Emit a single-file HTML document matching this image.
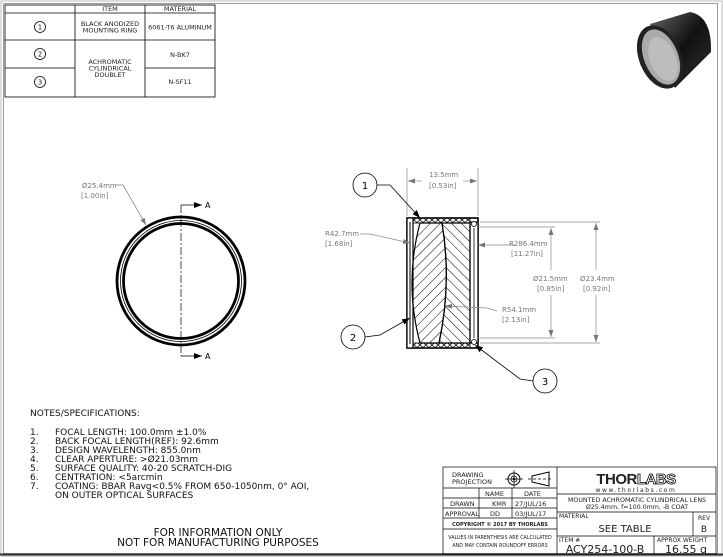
<!DOCTYPE html>
<html><head><meta charset="utf-8"><style>
html,body{margin:0;padding:0;background:#fff;}
svg{display:block;font-family:"DejaVu Sans","Liberation Sans",sans-serif;}
</style></head><body>
<svg width="723" height="557" viewBox="0 0 723 557" xmlns="http://www.w3.org/2000/svg">
<defs>
<pattern id="hb" width="7" height="7" patternUnits="userSpaceOnUse" patternTransform="rotate(45)"><line x1="0" y1="0" x2="0" y2="7" stroke="#000" stroke-width="1"/></pattern>
<pattern id="hf" width="7" height="7" patternUnits="userSpaceOnUse" patternTransform="rotate(-45)"><line x1="0" y1="0" x2="0" y2="7" stroke="#000" stroke-width="1"/></pattern>
<pattern id="hx" width="6" height="5" patternUnits="userSpaceOnUse"><path d="M0 0L6 5M6 0L0 5" stroke="#000" stroke-width="0.7"/></pattern>
<marker id="ar" markerWidth="8" markerHeight="6" refX="8" refY="3" orient="auto" markerUnits="userSpaceOnUse"><path d="M0 0L8 3L0 6z" fill="#000"/></marker>
<marker id="ag" markerWidth="7" markerHeight="5" refX="7" refY="2.5" orient="auto" markerUnits="userSpaceOnUse"><path d="M0 0L7 2.5L0 5z" fill="#777"/></marker>
<linearGradient id="cyl" x1="0" y1="0" x2="1" y2="1"><stop offset="0" stop-color="#666"/><stop offset="0.5" stop-color="#111"/><stop offset="1" stop-color="#333"/></linearGradient>
</defs>
<rect x="1" y="1" width="721" height="555" fill="none" stroke="#bbb" stroke-width="1"/>
<rect x="3.5" y="3.5" width="714" height="550" fill="none" stroke="#999" stroke-width="1"/>
<line x1="0" y1="554.5" x2="723" y2="554.5" stroke="#333" stroke-width="2"/>

<g stroke="#000" stroke-width="0.8" fill="none">
<rect x="5" y="5" width="210" height="92"/>
<line x1="5" y1="13" x2="215" y2="13"/>
<line x1="5" y1="40" x2="215" y2="40"/>
<line x1="5" y1="68" x2="75" y2="68"/>
<line x1="145" y1="68" x2="215" y2="68"/>
<line x1="75" y1="5" x2="75" y2="97"/>
<line x1="145" y1="5" x2="145" y2="97"/>
<circle cx="40" cy="27" r="5.5"/><circle cx="40" cy="54" r="5.5"/><circle cx="40" cy="82" r="5.5"/>
</g>
<g font-size="6.5" text-anchor="middle" fill="#222">
<text x="110" y="11">ITEM</text><text x="180" y="11">MATERIAL</text>
<text x="40" y="29.5" font-size="7">1</text><text x="40" y="56.5" font-size="7">2</text><text x="40" y="84.5" font-size="7">3</text>
<text x="110" y="26">BLACK ANODIZED</text><text x="110" y="32.5">MOUNTING RING</text>
<text x="180" y="29.5">6061-T6 ALUMINUM</text>
<text x="110" y="64">ACHROMATIC</text><text x="110" y="70.5">CYLINDRICAL</text><text x="110" y="77">DOUBLET</text>
<text x="180" y="57">N-BK7</text><text x="180" y="84">N-SF11</text>
</g>

<g>
<path d="M650 24 L690 12 Q712 16 711 52 L675 88 Z" fill="url(#cyl)"/>
<ellipse cx="660" cy="57" rx="21" ry="33" transform="rotate(-22 660 57)" fill="#222"/>
<ellipse cx="661" cy="57" rx="17" ry="29" transform="rotate(-22 661 57)" fill="#aaa"/>
<ellipse cx="663" cy="59" rx="13" ry="23" transform="rotate(-22 663 59)" fill="#bdbdbd"/>
</g>

<circle cx="181" cy="281" r="64" fill="none" stroke="#000" stroke-width="2.8"/>
<circle cx="181" cy="281" r="60.5" fill="none" stroke="#000" stroke-width="0.8"/>
<circle cx="181" cy="281" r="57.5" fill="none" stroke="#000" stroke-width="2.8"/>
<line x1="181" y1="205" x2="181" y2="356" stroke="#000" stroke-width="0.7" stroke-dasharray="8,2,2,2"/>
<line x1="181" y1="205" x2="202" y2="205" stroke="#000" stroke-width="0.8" marker-end="url(#ar)"/>
<line x1="181" y1="356" x2="202" y2="356" stroke="#000" stroke-width="0.8" marker-end="url(#ar)"/>
<text x="205" y="208" font-size="8">A</text><text x="205" y="359" font-size="8">A</text>
<text x="82" y="188" font-size="7" fill="#777">Ø25.4mm</text>
<text x="81" y="198" font-size="7" fill="#777">[1.00in]</text>
<polyline points="115,185 123,185 146,225" fill="none" stroke="#777" stroke-width="0.7" marker-end="url(#ag)"/>

<g>
<rect x="407" y="218" width="71" height="130" fill="none" stroke="#000" stroke-width="1.6"/>
<rect x="413" y="218" width="57" height="5" fill="url(#hx)" stroke="#000" stroke-width="0.8"/>
<rect x="413" y="343" width="57" height="5" fill="url(#hx)" stroke="#000" stroke-width="0.8"/>
<rect x="407" y="218" width="6" height="130" fill="#fff" stroke="#000" stroke-width="1.2"/>
<line x1="410" y1="222" x2="410" y2="344" stroke="#000" stroke-width="1"/>
<rect x="470" y="222" width="8" height="121" fill="#fff" stroke="#000" stroke-width="1.2"/>
<line x1="474" y1="228" x2="474" y2="338" stroke="#000" stroke-width="0.8"/>
<circle cx="474" cy="224" r="2.5" fill="#fff" stroke="#000" stroke-width="0.8"/>
<circle cx="474" cy="342" r="2.5" fill="#fff" stroke="#000" stroke-width="0.8"/>
<path d="M420 223 Q404 283 420 343 L439 343 Q452 283 442 223 Z" fill="url(#hb)" stroke="#000" stroke-width="1.2"/>
<path d="M442 223 Q452 283 439 343 L470 343 L470 223 Z" fill="url(#hf)" stroke="#000" stroke-width="1.2"/>
</g>
<g stroke="#888" stroke-width="0.7" fill="none">
<line x1="407" y1="168" x2="407" y2="216"/><line x1="478" y1="168" x2="478" y2="216"/>
<line x1="422" y1="181" x2="408" y2="181" marker-end="url(#ag)"/>
<line x1="463" y1="181" x2="477" y2="181" marker-end="url(#ag)"/>
<line x1="480" y1="222" x2="600" y2="222"/><line x1="480" y1="343" x2="600" y2="343"/>
<line x1="480" y1="227" x2="555" y2="227"/><line x1="480" y1="338" x2="555" y2="338"/>
<line x1="551" y1="270" x2="551" y2="228" marker-end="url(#ag)"/>
<line x1="551" y1="295" x2="551" y2="337" marker-end="url(#ag)"/>
<line x1="596" y1="270" x2="596" y2="223" marker-end="url(#ag)"/>
<line x1="596" y1="295" x2="596" y2="342" marker-end="url(#ag)"/>
<polyline points="360,234 370,234 410,243" marker-end="url(#ag)"/>
<polyline points="515,245 478,245" marker-end="url(#ag)"/>
<polyline points="497,311 487,308 445,306" marker-end="url(#ag)"/>
</g>
<g font-size="7" fill="#777">
<text x="429" y="177">13.5mm</text><text x="429" y="188">[0.53in]</text>
<text x="325" y="236">R42.7mm</text><text x="325" y="246">[1.68in]</text>
<text x="509" y="246">R286.4mm</text><text x="511" y="256">[11.27in]</text>
<text x="502" y="312">R54.1mm</text><text x="502" y="322">[2.13in]</text>
<text x="533" y="281">Ø21.5mm</text><text x="537" y="291">[0.85in]</text>
<text x="580" y="281">Ø23.4mm</text><text x="583" y="291">[0.92in]</text>
</g>
<g stroke="#000" stroke-width="0.8" fill="none">
<circle cx="365" cy="185" r="12"/><polyline points="377,185 390,185 420,218" marker-end="url(#ar)"/>
<circle cx="353" cy="337" r="12"/><polyline points="365,337 380,335 410,318" marker-end="url(#ar)"/>
<circle cx="545" cy="381" r="12"/><polyline points="533,381 520,379 475,345" marker-end="url(#ar)"/>
</g>
<g font-size="10" text-anchor="middle"><text x="365" y="189">1</text><text x="353" y="341">2</text><text x="545" y="385">3</text></g>

<g font-size="9" fill="#111">
<text x="30" y="416">NOTES/SPECIFICATIONS:</text>
<text x="30" y="435">1.</text><text x="55" y="435">FOCAL LENGTH: 100.0mm ±1.0%</text>
<text x="30" y="444">2.</text><text x="55" y="444">BACK FOCAL LENGTH(REF): 92.6mm</text>
<text x="30" y="453">3.</text><text x="55" y="453">DESIGN WAVELENGTH: 855.0nm</text>
<text x="30" y="462">4.</text><text x="55" y="462">CLEAR APERTURE: &gt;Ø21.03mm</text>
<text x="30" y="471">5.</text><text x="55" y="471">SURFACE QUALITY: 40-20 SCRATCH-DIG</text>
<text x="30" y="480">6.</text><text x="55" y="480">CENTRATION: &lt;5arcmin</text>
<text x="30" y="489">7.</text><text x="55" y="489">COATING: BBAR Ravg&lt;0.5% FROM 650-1050nm, 0° AOI,</text>
<text x="55" y="498">ON OUTER OPTICAL SURFACES</text>
</g>
<g font-size="10.5" text-anchor="middle" fill="#111">
<text x="218" y="536">FOR INFORMATION ONLY</text>
<text x="218" y="546">NOT FOR MANUFACTURING PURPOSES</text>
</g>

<g stroke="#000" stroke-width="0.7" fill="none">
<rect x="443" y="467" width="273" height="87"/>
<line x1="557" y1="467" x2="557" y2="554"/>
<line x1="443" y1="488" x2="557" y2="488"/>
<line x1="443" y1="498" x2="557" y2="498"/>
<line x1="443" y1="508" x2="557" y2="508"/>
<line x1="443" y1="518" x2="557" y2="518"/>
<line x1="443" y1="529" x2="557" y2="529"/>
<line x1="479" y1="488" x2="479" y2="518"/>
<line x1="512" y1="488" x2="512" y2="518"/>
<line x1="557" y1="494" x2="716" y2="494"/>
<line x1="557" y1="512" x2="716" y2="512"/>
<line x1="557" y1="536" x2="716" y2="536"/>
<line x1="693" y1="512" x2="693" y2="536"/>
<line x1="654" y1="536" x2="654" y2="554"/>
<circle cx="514" cy="479" r="6" stroke-width="1"/><circle cx="514" cy="479" r="3"/><circle cx="514" cy="479" r="1" fill="#000"/>
<line x1="505" y1="479" x2="523" y2="479"/><line x1="514" y1="470" x2="514" y2="488"/>
<path d="M532 476 L549 472 L549 486 L532 482 Z" stroke-width="1"/>
<line x1="528" y1="479" x2="552" y2="479" stroke-dasharray="3,2"/>
</g>
<g font-size="6.5" fill="#222">
<text x="452" y="477">DRAWING</text><text x="452" y="484">PROJECTION</text>
<text x="485" y="496">NAME</text><text x="524" y="496">DATE</text>
<text x="450" y="506">DRAWN</text><text x="492" y="506">KMR</text><text x="515" y="506">27/JUL/16</text>
<text x="445" y="516">APPROVAL</text><text x="490" y="516">DD</text><text x="515" y="516">03/JUL/17</text>
<text x="500" y="526" text-anchor="middle" font-size="5" font-weight="bold">COPYRIGHT © 2017 BY THORLABS</text>
<text x="500" y="539" text-anchor="middle" font-size="4.8">VALUES IN PARENTHESIS ARE CALCULATED</text>
<text x="500" y="547" text-anchor="middle" font-size="4.8">AND MAY CONTAIN ROUNDOFF ERRORS</text>
<text x="636" y="484" text-anchor="middle" font-size="15" font-weight="bold" font-family="Liberation Sans" letter-spacing="-0.5">THOR<tspan fill="#fff" stroke="#000" stroke-width="0.8">LABS</tspan></text>
<text x="636" y="492" text-anchor="middle" font-size="6" letter-spacing="1.6">www.thorlabs.com</text>
<text x="637" y="502" text-anchor="middle" font-size="6.3">MOUNTED ACHROMATIC CYLINDRICAL LENS</text>
<text x="637" y="509" text-anchor="middle" font-size="6.3">Ø25.4mm, f=100.0mm, -B COAT</text>
<text x="559" y="518" font-size="6">MATERIAL</text>
<text x="625" y="532" text-anchor="middle" font-size="10">SEE TABLE</text>
<text x="698" y="520" font-size="6">REV</text>
<text x="704" y="532" text-anchor="middle" font-size="9">B</text>
<text x="559" y="542" font-size="6">ITEM #</text>
<text x="605" y="553" text-anchor="middle" font-size="11">ACY254-100-B</text>
<text x="657" y="542" font-size="6">APPROX WEIGHT</text>
<text x="686" y="553" text-anchor="middle" font-size="11">16.55 g</text>
</g>
</svg>
</body></html>
